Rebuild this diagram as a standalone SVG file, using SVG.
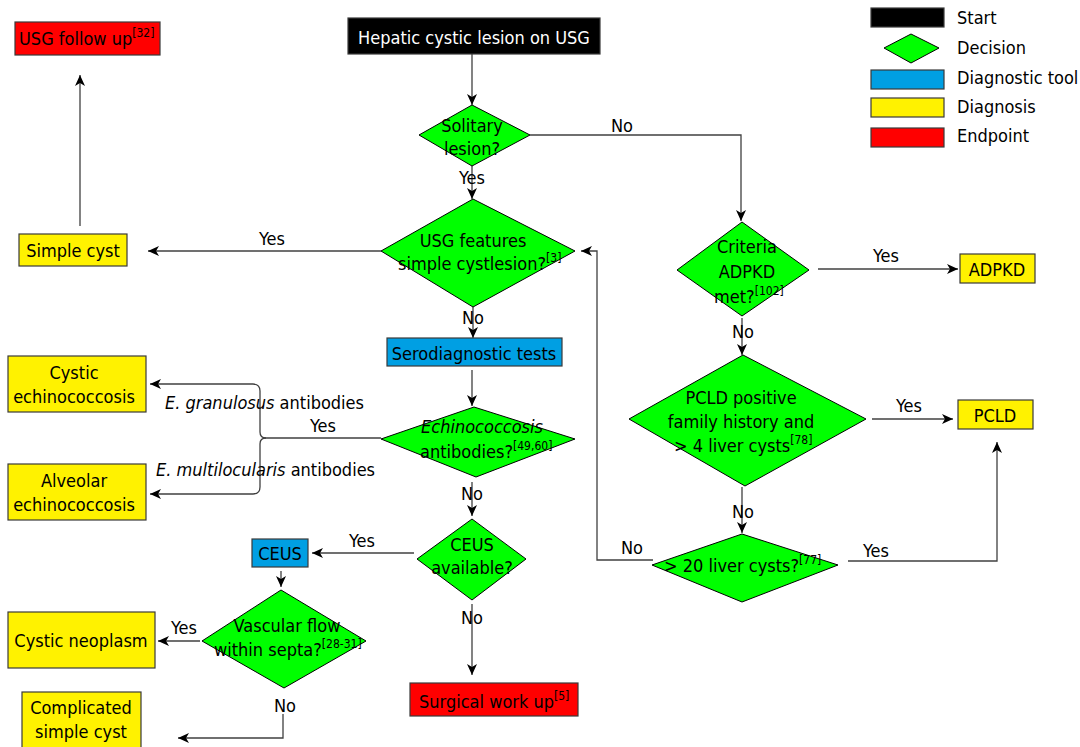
<svg xmlns="http://www.w3.org/2000/svg" width="1080" height="747" viewBox="0 0 1080 747">
<defs>
<style>
text{font-family:"DejaVu Sans Condensed","DejaVu Sans",sans-serif;font-stretch:condensed;font-size:18px;fill:#000}
.c{text-anchor:middle}
.w{fill:#fff}
.sup{font-size:12px}
.it{font-style:italic}
.box{stroke:#3a3a3a;stroke-width:1.2}
.start{fill:#000}
.dec{fill:#00ff00;stroke:#000;stroke-width:1}
.tool{fill:#009fe3}
.diag{fill:#fff200}
.end{fill:#ff0000}
.conn path{fill:none;stroke:#404040;stroke-width:1.3;marker-end:url(#arr)}
</style>
<marker id="arr" markerUnits="userSpaceOnUse" markerWidth="12" markerHeight="10" viewBox="0 0 12 10" refX="11" refY="5" orient="auto">
<path d="M0,0 L11,5 L0,10 L3,5 z" fill="#000"/>
</marker>
</defs>
<rect width="1080" height="747" fill="#fff"/>

<g id="legend">
<rect class="box start" x="871" y="8" width="73" height="19"/>
<text x="957" y="24">Start</text>
<polygon class="dec" points="884,48 911,34 939,48 911,63"/>
<text x="957" y="54">Decision</text>
<rect class="box tool" x="871" y="70" width="73" height="19"/>
<text x="957" y="84">Diagnostic tool</text>
<rect class="box diag" x="871" y="98" width="73" height="19"/>
<text x="957" y="113">Diagnosis</text>
<rect class="box end" x="871" y="128" width="73" height="19"/>
<text x="957" y="142">Endpoint</text>
</g>

<g class="conn" id="connectors">
<path d="M472,54 V105"/>
<path d="M472,166 V199"/>
<path d="M530,135 H741 V221"/>
<path d="M381,251 H148"/>
<path d="M80,226 V75"/>
<path d="M473,307 V338"/>
<path d="M472,370 V406"/>
<path d="M381,438 H266 Q260,438 260,432 V391 Q260,384 253,384 H150"/>
<path d="M266,438 Q260,438 260,444 V487 Q260,494 253,494 H150"/>
<path d="M472,482 V516"/>
<path d="M414,553 H312"/>
<path d="M472,604 V675"/>
<path d="M281,571 V587"/>
<path d="M200,641 H158"/>
<path d="M283,714 V738 H178"/>
<path d="M818,269 H958"/>
<path d="M742,318 V355"/>
<path d="M872,419 H953"/>
<path d="M742,487 V533"/>
<path d="M848,561 H997 V442"/>
<path d="M653,560 H597 V251 H581"/>
</g>

<g id="labels">
<text class="c" x="472" y="184">Yes</text>
<text class="c" x="622" y="132">No</text>
<text class="c" x="272" y="245">Yes</text>
<text class="c" x="473" y="324">No</text>
<text class="c" x="323" y="432">Yes</text>
<text x="165" y="409"><tspan class="it">E. granulosus</tspan> antibodies</text>
<text x="156" y="476"><tspan class="it">E. multilocularis</tspan> antibodies</text>
<text class="c" x="472" y="500">No</text>
<text class="c" x="362" y="547">Yes</text>
<text class="c" x="472" y="624">No</text>
<text class="c" x="184" y="634">Yes</text>
<text class="c" x="285" y="712">No</text>
<text class="c" x="886" y="262">Yes</text>
<text class="c" x="743" y="338">No</text>
<text class="c" x="909" y="412">Yes</text>
<text class="c" x="743" y="518">No</text>
<text class="c" x="876" y="557">Yes</text>
<text class="c" x="632" y="554">No</text>
</g>

<g id="usg-follow-up">
<rect class="box end" x="15" y="22" width="145" height="33"/>
<text x="19" y="45">USG follow up<tspan class="sup" dy="-8">[32]</tspan></text>
</g>

<g id="start">
<rect class="box start" x="348" y="18" width="252" height="36"/>
<text class="c w" x="474" y="44">Hepatic cystic lesion on USG</text>
</g>

<g id="solitary">
<polygon class="dec" points="419,135 472,105 530,135 472,166"/>
<text class="c" x="472" y="132">Solitary</text>
<text class="c" x="472" y="155">lesion?</text>
</g>

<g id="usg-features">
<polygon class="dec" points="381,251 473,199 575,251 473,307"/>
<text class="c" x="473" y="247">USG features</text>
<text x="398" y="270">simple cystlesion?<tspan class="sup" dy="-8">[3]</tspan></text>
</g>

<g id="simple-cyst">
<rect class="box diag" x="19" y="234" width="108" height="32"/>
<text class="c" x="73" y="257">Simple cyst</text>
</g>

<g id="serodiagnostic">
<rect class="box tool" x="387" y="338" width="175" height="28"/>
<text class="c" x="474" y="360">Serodiagnostic tests</text>
</g>

<g id="echinococcosis">
<polygon class="dec" points="381,439 474,407 575,439 476,477"/>
<text class="c it" x="482" y="433">Echinococcosis</text>
<text x="420" y="458">antibodies?<tspan class="sup" dy="-8">[49,60]</tspan></text>
</g>

<g id="cystic-echino">
<rect class="box diag" x="8" y="356" width="138" height="56"/>
<text class="c" x="74" y="379">Cystic</text>
<text class="c" x="74" y="403">echinococcosis</text>
</g>

<g id="alveolar-echino">
<rect class="box diag" x="8" y="464" width="138" height="56"/>
<text class="c" x="74" y="487">Alveolar</text>
<text class="c" x="74" y="511">echinococcosis</text>
</g>

<g id="ceus-available">
<polygon class="dec" points="417,559 472,519 526,559 472,600"/>
<text class="c" x="472" y="551">CEUS</text>
<text class="c" x="472" y="574">available?</text>
</g>

<g id="ceus">
<rect class="box tool" x="252" y="539" width="56" height="28"/>
<text class="c" x="280" y="560">CEUS</text>
</g>

<g id="vascular-flow">
<polygon class="dec" points="202,641 281,590 366,641 284,688"/>
<text class="c" x="287" y="632">Vascular flow</text>
<text x="214" y="656">within septa?<tspan class="sup" dy="-8">[28-31]</tspan></text>
</g>

<g id="cystic-neoplasm">
<rect class="box diag" x="8" y="612" width="147" height="56"/>
<text class="c" x="81" y="647">Cystic neoplasm</text>
</g>

<g id="complicated-cyst">
<rect class="box diag" x="22" y="692" width="119" height="60"/>
<text class="c" x="81" y="714">Complicated</text>
<text class="c" x="81" y="738">simple cyst</text>
</g>

<g id="surgical">
<rect class="box end" x="410" y="683" width="168" height="33"/>
<text x="419" y="708">Surgical work up<tspan class="sup" dy="-8">[5]</tspan></text>
</g>

<g id="adpkd-criteria">
<polygon class="dec" points="677,270 742,222 809,270 742,316"/>
<text class="c" x="747" y="253">Criteria</text>
<text class="c" x="747" y="278">ADPKD</text>
<text x="714" y="303">met?<tspan class="sup" dy="-8">[102]</tspan></text>
</g>

<g id="adpkd">
<rect class="box diag" x="960" y="254" width="75" height="29"/>
<text class="c" x="997" y="276">ADPKD</text>
</g>

<g id="pcld-history">
<polygon class="dec" points="629,419 743,355 866,419 745,486"/>
<text class="c" x="741" y="404">PCLD positive</text>
<text class="c" x="741" y="428">family history and</text>
<text x="674" y="452">&gt; 4 liver cysts<tspan class="sup" dy="-8">[78]</tspan></text>
</g>

<g id="pcld">
<rect class="box diag" x="958" y="400" width="75" height="29"/>
<text class="c" x="995" y="422">PCLD</text>
</g>

<g id="twenty-cysts">
<polygon class="dec" points="652,565 742,534 838,565 742,602"/>
<text x="664" y="572">&gt; 20 liver cysts?<tspan class="sup" dy="-8">[77]</tspan></text>
</g>
</svg>
